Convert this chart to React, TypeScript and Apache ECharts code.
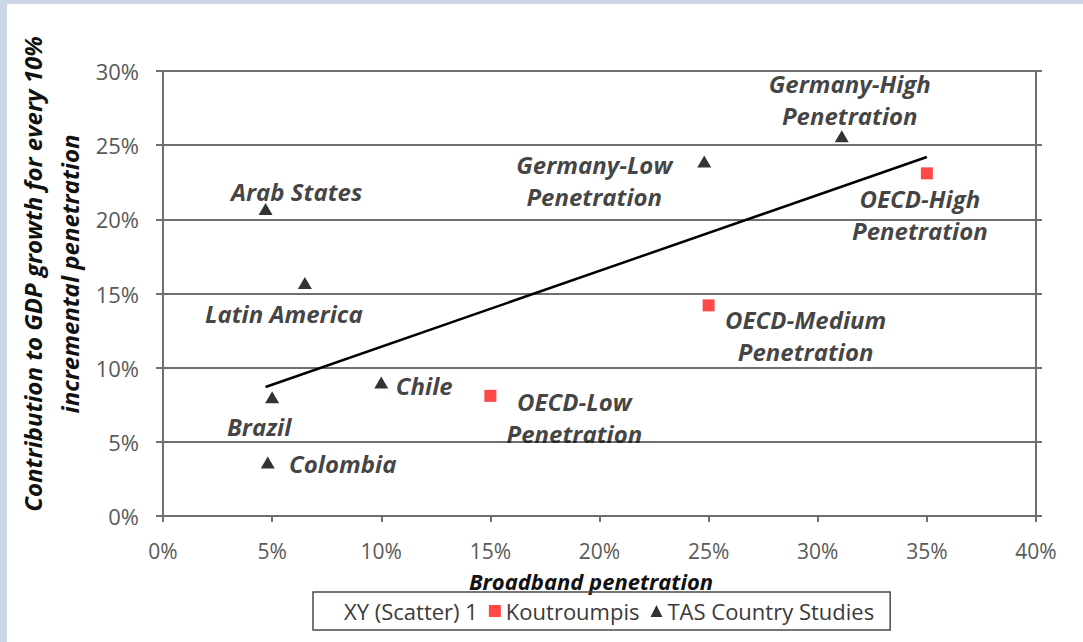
import React, { useEffect, useRef } from "react";
import * as echarts from "echarts";

// ---- data (percent units) ----
const xTicks = [0, 5, 10, 15, 20, 25, 30, 35, 40];
const yTicks = [0, 5, 10, 15, 20, 25, 30];

const tasNames = ["Arab States", "Latin America", "Brazil", "Colombia", "Chile", "Germany-Low\nPenetration", "Germany-High\nPenetration"];
const tasX = [4.7, 6.5, 5.0, 4.8, 10.0, 24.8, 31.1];
const tasY = [20.7, 15.7, 8.0, 3.6, 9.0, 23.9, 25.6];

const koutNames = ["OECD-Low\nPenetration", "OECD-Medium\nPenetration", "OECD-High\nPenetration"];
const koutX = [15.0, 25.0, 35.0];
const koutY = [8.1, 14.2, 23.1];

const trendX = [4.7, 35.0];
const trendY = [8.7, 24.2];

const seriesNames = ["XY (Scatter) 1", "Koutroumpis", "TAS Country Studies"];

// ---- label layout (pixel offsets from marker centre) ----
const tasLabelOffsets = [[31, -17], [-21, 30], [-13, 29], [75, 1], [43, 3], [-110, 19], [8, -37]];
const koutLabelOffsets = [[84, 22], [97, 30], [-7, 41]];

const LABEL_FONT = "'Open Sans', sans-serif";

export default function App() {
  const ref = useRef<HTMLDivElement>(null);
  useEffect(() => {
    if (!ref.current) return;
    const chart = echarts.init(ref.current, null, { renderer: "svg" });
    const labelStyle = {
      show: true,
      position: "inside",
      align: "center",
      verticalAlign: "middle",
      fontFamily: LABEL_FONT,
      fontStyle: "italic",
      fontWeight: "bold",
      fontSize: 24,
      lineHeight: 32,
      color: "#111111",
      formatter: (p: any) => p.name,
    };
    const tasData = tasNames.map((n, i) => ({
      name: n,
      value: [tasX[i], tasY[i]],
      label: { offset: tasLabelOffsets[i] },
    }));
    const koutData = koutNames.map((n, i) => ({
      name: n,
      value: [koutX[i], koutY[i]],
      label: { offset: koutLabelOffsets[i] },
    }));
    const gridColor = "#6f6f6f";
    const tickLabel = { color: "#595959", fontFamily: LABEL_FONT, fontSize: 22, margin: 24 };
    chart.setOption({
      animation: false,
      backgroundColor: "#ffffff",
      grid: { left: 163, right: 47, top: 71, bottom: 126, containLabel: false },
      xAxis: {
        type: "value",
        min: xTicks[0],
        max: xTicks[xTicks.length - 1],
        interval: 5,
        axisLine: { show: true, lineStyle: { color: gridColor, width: 2 } },
        axisTick: { show: true, length: 6, lineStyle: { color: gridColor, width: 2 } },
        splitLine: { show: false },
        axisLabel: { ...tickLabel, fontSize: 21, lineHeight: 20, margin: 25, formatter: "{value}%" },
      },
      yAxis: [
        {
          type: "value",
          min: yTicks[0],
          max: yTicks[yTicks.length - 1],
          interval: 5,
          axisLine: { show: true, lineStyle: { color: gridColor, width: 2 } },
          axisTick: { show: true, length: 7, lineStyle: { color: gridColor, width: 2 } },
          splitLine: { show: true, lineStyle: { color: gridColor, width: 2 } },
          axisLabel: { ...tickLabel, formatter: "{value}%" },
        },
        {
          type: "value",
          position: "right",
          min: yTicks[0],
          max: yTicks[yTicks.length - 1],
          interval: 5,
          axisLine: { show: true, lineStyle: { color: gridColor, width: 2 } },
          axisTick: { show: true, length: 6, lineStyle: { color: gridColor, width: 2 } },
          splitLine: { show: false },
          axisLabel: { show: false },
        },
      ],
      legend: {
        left: 313,
        top: 592,
        orient: "horizontal",
        padding: [8, 16, 8, 14],
        borderColor: "#4a4a4a",
        borderWidth: 1.5,
        itemGap: 11,
        itemWidth: 12,
        itemHeight: 12,
        textStyle: { fontFamily: LABEL_FONT, fontSize: 22, color: "#3a3a3a" },
        data: [
          { name: seriesNames[0], icon: "rect", itemStyle: { color: "rgba(0,0,0,0)", opacity: 0 } },
          { name: seriesNames[1], icon: "rect" },
          { name: seriesNames[2], icon: "triangle" },
        ],
      },
      graphic: [
        { type: "rect", z: -10, shape: { x: 0, y: 0, width: 7, height: 642 }, style: { fill: "#cdd8e6" } },
        { type: "rect", z: -10, shape: { x: 0, y: 0, width: 1083, height: 4 }, style: { fill: "#cdd8e6" } },
        {
          type: "text",
          x: 591,
          y: 581,
          style: {
            text: "Broadband penetration",
            fontFamily: LABEL_FONT,
            fontStyle: "italic",
            fontWeight: "bold",
            fontSize: 22,
            lineHeight: 22,
            fill: "#111111",
            align: "center",
            verticalAlign: "middle",
          },
        },
        {
          type: "text",
          x: 51,
          y: 274,
          rotation: Math.PI / 2,
          style: {
            text: "Contribution to GDP growth for every 10%\nincremental penetration",
            fontFamily: LABEL_FONT,
            fontStyle: "italic",
            fontWeight: "bold",
            fontSize: 24,
            lineHeight: 37,
            fill: "#111111",
            align: "center",
            verticalAlign: "middle",
          },
        },
      ],
      series: [
        {
          name: seriesNames[0],
          type: "line",
          data: trendX.map((x, i) => [x, trendY[i]]),
          symbol: "none",
          lineStyle: { color: "#000000", width: 2.5 },
          itemStyle: { color: "#000000" },
          z: 3,
        },
        {
          name: seriesNames[1],
          type: "scatter",
          symbol: "rect",
          symbolSize: 12,
          itemStyle: { color: "#ff1a1a" },
          label: labelStyle,
          data: koutData,
          z: 4,
        },
        {
          name: seriesNames[2],
          type: "scatter",
          symbol: "triangle",
          symbolSize: [14, 12],
          itemStyle: { color: "#000000" },
          label: labelStyle,
          data: tasData,
          z: 4,
        },
      ],
    });
    return () => chart.dispose();
  }, []);
  return (
    <div
      ref={ref}
      style={{ position: "absolute", left: 0, top: 0, width: 1083, height: 642 }}
    />
  );
}
